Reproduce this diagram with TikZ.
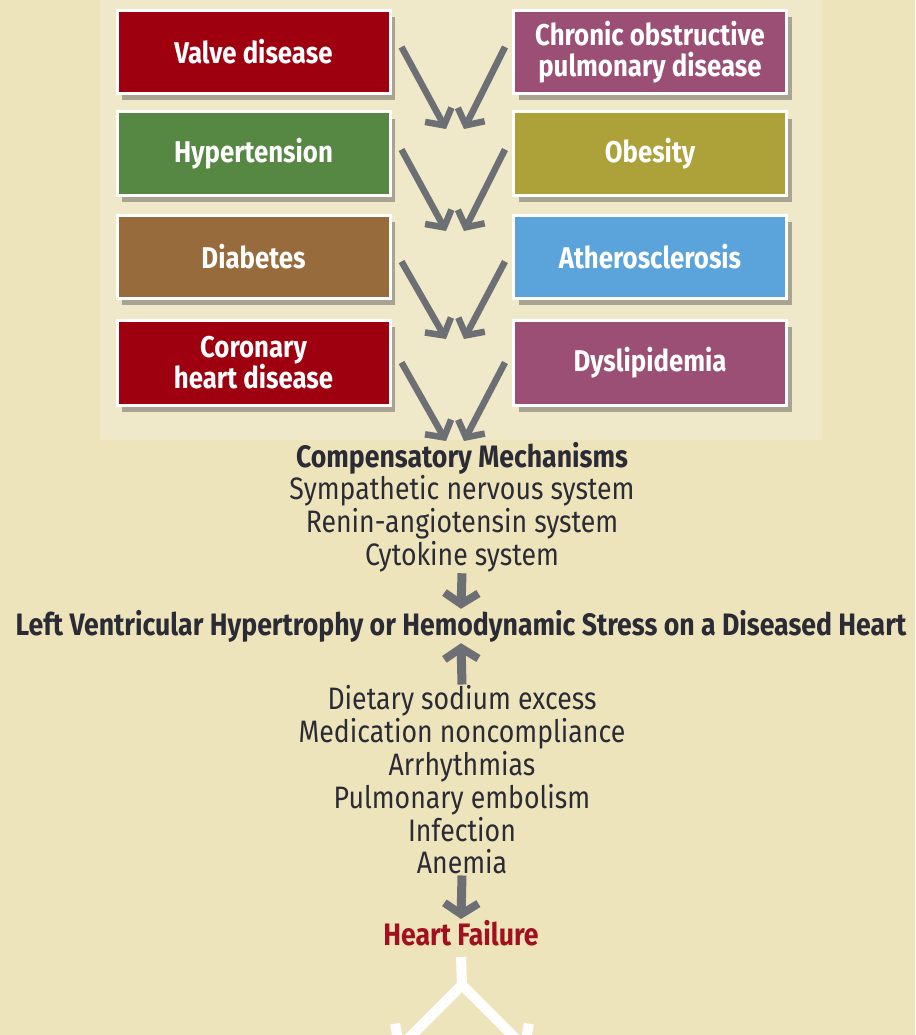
\documentclass[tikz,border=0pt]{standalone}
\usepackage{fontspec}
\setmainfont[FakeStretch=0.86]{Fira Sans}
\usetikzlibrary{arrows.meta,positioning,shadows}

\definecolor{bgcol}{HTML}{EEE4BC}
\definecolor{panelcol}{HTML}{EFE8C9}
\definecolor{inkcol}{HTML}{2A2B35}
\definecolor{arrowgray}{HTML}{6C6F73}
\definecolor{hfred}{HTML}{A0101E}
\definecolor{darkred}{HTML}{9E0010}
\definecolor{mauve}{HTML}{9C4F74}
\definecolor{grassgreen}{HTML}{578843}
\definecolor{olive}{HTML}{ADA23A}
\definecolor{brownish}{HTML}{976B3B}
\definecolor{skyblue}{HTML}{5AA3DB}

\tikzset{
  riskbox/.style={draw=white, line width=3pt, minimum width=273pt,
    minimum height=83pt, text=white, align=center,
    font=\bfseries\fontsize{30}{31.5}\selectfont,
    drop shadow={shadow xshift=5pt, shadow yshift=-7pt, opacity=.4, fill=black!75}},
  listtext/.style={text=inkcol, align=center, inner sep=1pt,
    font=\fontsize{31}{32.8}\selectfont},
  feed/.style={draw=arrowgray, line width=6.5pt,
    -{Straight Barb[length=12pt, width=30pt, line width=6.5pt]}},
  fatdown/.style={draw=arrowgray, line width=9pt,
    -{Straight Barb[length=11pt, width=34pt, line width=8pt]}},
  whiteout/.style={draw=white, line width=10pt,
    -{Straight Barb[length=14pt, width=40pt, line width=10pt]}}
}

\begin{document}
\begin{tikzpicture}[x=1pt, y=-1pt]
  \clip (0,0) rectangle (915,1035);
  \fill[bgcol] (0,0) rectangle (915,1035);
  \fill[panelcol] (100,0) rectangle (822,440);

  % Risk factors, left column
  \node[riskbox, fill=darkred] (valve) at (253.5,52) {Valve disease};
  \node[riskbox, fill=grassgreen] (htn) at (253.5,153.5) {Hypertension};
  \node[riskbox, fill=brownish] (dm) at (253.5,256.5) {Diabetes};
  \node[riskbox, fill=darkred, minimum height=85pt] (chd) at (253.5,362.5)
    {Coronary\\heart disease};

  % Risk factors, right column
  \node[riskbox, fill=mauve] (copd) at (650,52)
    {Chronic obstructive\\pulmonary disease};
  \node[riskbox, fill=olive] (obes) at (650,153.5) {Obesity};
  \node[riskbox, fill=skyblue] (athero) at (650,256.5) {Atherosclerosis};
  \node[riskbox, fill=mauve, minimum height=85pt] (dysl) at (650,362.5)
    {Dyslipidemia};

  % Merge points between the rows
  \coordinate (m1) at (455,129);
  \coordinate (m2) at (455,231);
  \coordinate (m3) at (455,339);
  \coordinate (m4) at (455,441);

  \draw[feed] ([xshift=10pt, yshift=5pt]valve.east) -- ([xshift=-9pt]m1);
  \draw[feed] ([xshift=-7pt, yshift=5pt]copd.west) -- ([xshift=9pt]m1);
  \draw[feed] ([xshift=10pt, yshift=4pt]htn.east) -- ([xshift=-9pt]m2);
  \draw[feed] ([xshift=-7pt, yshift=4pt]obes.west) -- ([xshift=9pt]m2);
  \draw[feed] ([xshift=10pt, yshift=-5pt]dm.east) -- ([xshift=-9pt]m3);
  \draw[feed] ([xshift=-7pt, yshift=-5pt]athero.west) -- ([xshift=9pt]m3);
  \draw[feed] ([xshift=10pt]chd.east) -- ([xshift=-9pt]m4);
  \draw[feed] ([xshift=-7pt]dysl.west) -- ([xshift=9pt]m4);

  % Pathway
  \node[listtext] (comp) at (462,507)
    {\textbf{Compensatory Mechanisms}\\Sympathetic nervous system\\
     Renin-angiotensin system\\Cytokine system};
  \node[listtext, font=\bfseries\fontsize{31}{32.8}\selectfont] (lvh) at (461,626)
    {Left Ventricular Hypertrophy or Hemodynamic Stress on a Diseased Heart};
  \node[listtext] (precip) at (462,780)
    {Dietary sodium excess\\Medication noncompliance\\Arrhythmias\\
     Pulmonary embolism\\Infection\\Anemia};
  \node[listtext, text=hfred, font=\bfseries\fontsize{31}{32.8}\selectfont]
    (hf) at (461,933) {Heart Failure};

  \draw[fatdown] (comp.south) -- (lvh.north);
  \draw[fatdown] (precip.north) -- (lvh.south);
  \draw[fatdown] (precip.south) -- (hf.north);

  % Outcomes (cut off below)
  \coordinate (split) at (462,985);
  \coordinate (outL) at (395,1052);
  \coordinate (outR) at (529,1052);
  \draw[draw=white, line width=10pt] ([yshift=-10pt]hf.south) -- (split);
  \draw[whiteout] (split) -- (outL);
  \draw[whiteout] (split) -- (outR);
\end{tikzpicture}
\end{document}
